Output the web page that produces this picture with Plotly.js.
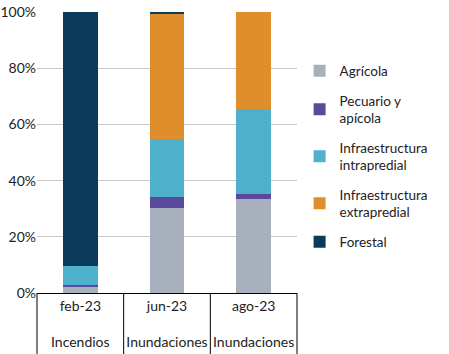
<!DOCTYPE html>
<html><head><meta charset="utf-8">
<script src="https://cdn.plot.ly/plotly-3.0.1.min.js"></script>
<style>html,body{margin:0;padding:0;background:#fff}</style>
</head><body><div id="chart" style="width:449px;height:354px"></div>
<script>
const categories = ["feb-23", "jun-23", "ago-23"];
const events = ["Incendios", "Inundaciones", "Inundaciones"];
const seriesNames = ["Agrícola", "Pecuario y<br>apícola", "Infraestructura<br>intrapredial", "Infraestructura<br>extrapredial", "Forestal"];
const agricola = [2.1, 30.1, 33.4];
const pecuario = [0.6, 4.1, 1.7];
const intrapredial = [6.8, 20.6, 30.4];
const extrapredial = [0.0, 44.5, 34.5];
const forestal = [90.5, 0.7, 0.0];
const colors = ["#a8afbd", "#5b4a9b", "#4fb0cb", "#e08e2b", "#0a3b5a"];

const values = [agricola, pecuario, intrapredial, extrapredial, forestal];
const xIdx = [0, 1, 2];
const traces = values.map((v, i) => ({
  type: "bar", x: xIdx, y: v, name: seriesNames[i], legendgroup: "g" + i,
  marker: {color: colors[i], line: {width: 0}}, width: 0.4, hoverinfo: "skip"
}));
const ticktext = categories.map((c, i) => c + "<br> <br>" + events[i]);

const shapes = [0, 1/3, 2/3, 1].map(p => ({
  type: "line", xref: "paper", yref: "paper", x0: p, x1: p, y0: 0, y1: -0.23,
  line: {color: "#000", width: 1}
}));

const layout = {
  width: 449, height: 354,
  margin: {l: 37, r: 152, t: 12, b: 61},
  barmode: "stack", bargap: 0.6,
  paper_bgcolor: "#fff", plot_bgcolor: "#fff",
  font: {family: "Lato, 'Open Sans', sans-serif", size: 14, color: "#222"},
  xaxis: {tickvals: xIdx, ticktext: ticktext, range: [-0.5, 2.5], showgrid: false,
    showline: true, linecolor: "#000", linewidth: 1, ticks: "", zeroline: false,
    tickfont: {size: 14, color: "#222"}, fixedrange: true},
  yaxis: {range: [0, 100], tickvals: [0, 20, 40, 60, 80, 100],
    ticktext: ["0%", "20%", "40%", "60%", "80%", "100%"],
    showgrid: true, gridcolor: "#c8c8c8", gridwidth: 1, zeroline: false,
    showline: false, ticks: "", tickfont: {size: 14, color: "#222"}, fixedrange: true},
  legend: {x: 1.01, y: 0.845, xanchor: "left", yanchor: "top", traceorder: "grouped",
    tracegroupgap: 9, font: {size: 13.5, color: "#222"}, itemwidth: 30},
  shapes: shapes, showlegend: true
};
Plotly.newPlot("chart", traces, layout, {displayModeBar: false, staticPlot: true});
</script></body></html>
